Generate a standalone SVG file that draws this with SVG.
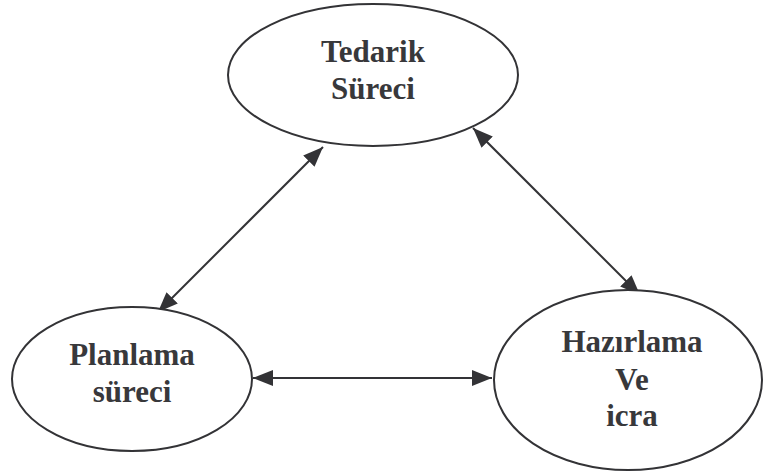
<svg xmlns="http://www.w3.org/2000/svg" width="763" height="475" viewBox="0 0 763 475">
<style>
.node ellipse{fill:#fff;stroke:#333336;stroke-width:2}
.node text{font-family:"Liberation Serif","Times New Roman",serif;font-weight:bold;font-size:31px;fill:#38383b;text-anchor:middle}
.conn line{stroke:#333336;stroke-width:2;marker-start:url(#ah);marker-end:url(#ah)}
</style>
<defs>
<marker id="ah" viewBox="0 0 20 16" refX="20" refY="8" markerWidth="20" markerHeight="16" markerUnits="userSpaceOnUse" orient="auto-start-reverse">
<path d="M0,0 L20,8 L0,16 Z" fill="#333336"/>
</marker>
</defs>
<rect width="763" height="475" fill="#fff"/>
<g id="connectors" class="conn">
<line x1="158" y1="312" x2="323" y2="147"/>
<line x1="473" y1="128" x2="640" y2="295"/>
<line x1="253" y1="378" x2="492" y2="378"/>
</g>
<g id="tedarik" class="node">
<ellipse cx="373" cy="75" rx="145" ry="71"/>
<text x="373" y="62">Tedarik</text>
<text x="373" y="99">Süreci</text>
</g>
<g id="planlama" class="node">
<ellipse cx="132" cy="379" rx="120" ry="72"/>
<text x="132" y="365">Planlama</text>
<text x="132" y="402">süreci</text>
</g>
<g id="hazirlama" class="node">
<ellipse cx="628" cy="380" rx="134" ry="90"/>
<text x="632" y="352">Hazırlama</text>
<text x="632" y="390">Ve</text>
<text x="632" y="426">icra</text>
</g>
</svg>
